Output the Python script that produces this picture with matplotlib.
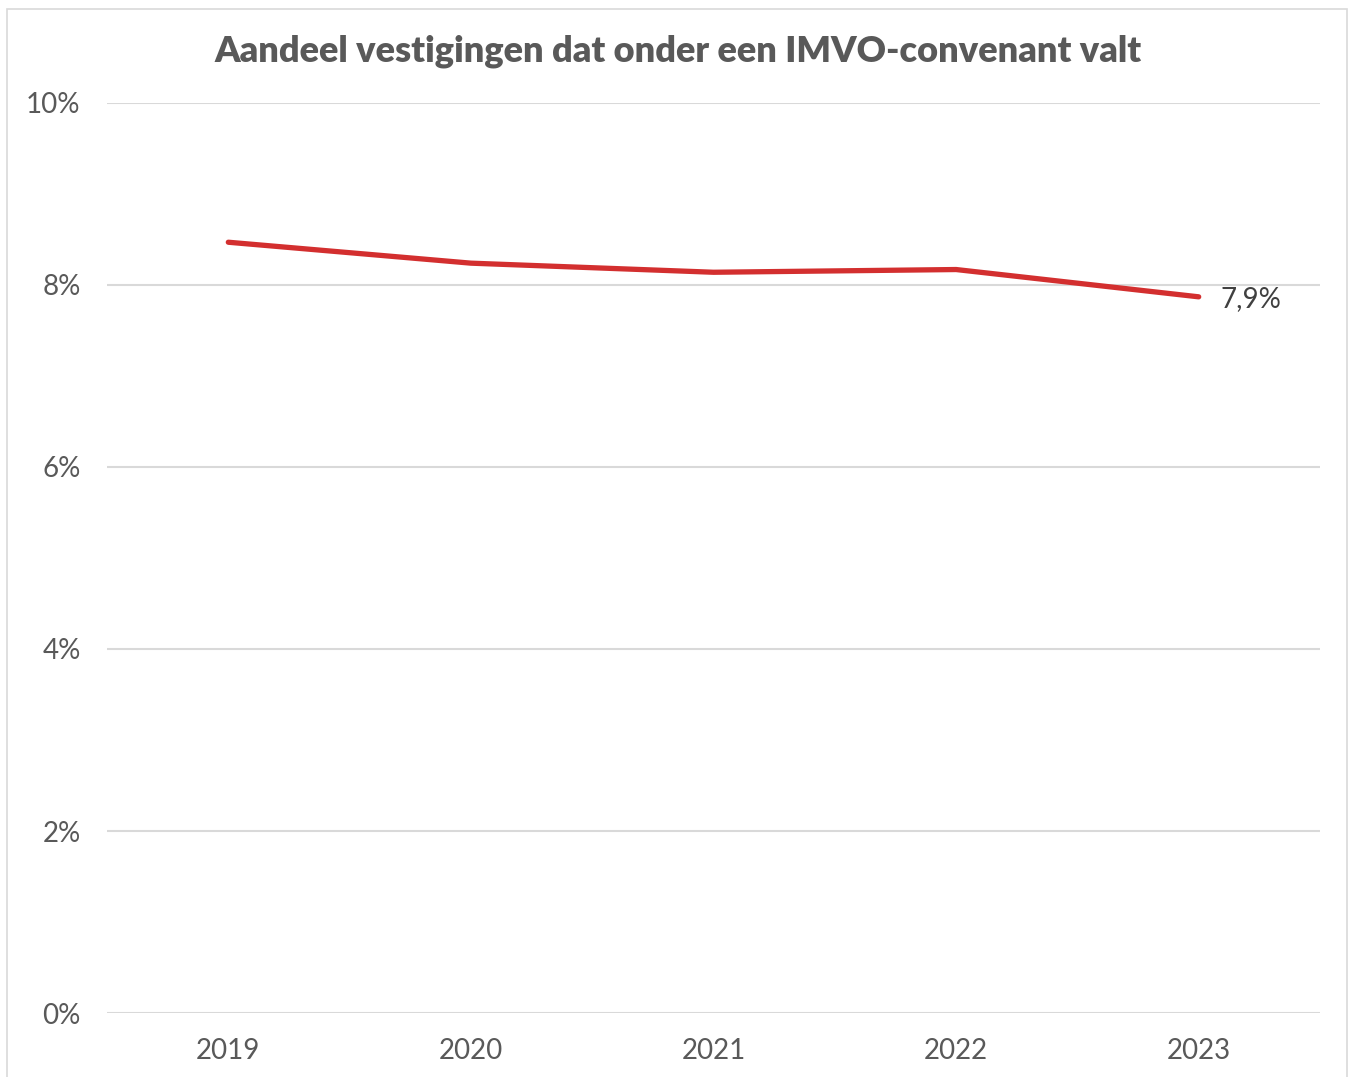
import matplotlib.pyplot as plt
from matplotlib.patches import Rectangle
from matplotlib.ticker import FuncFormatter

years = ["2019", "2020", "2021", "2022", "2023"]
share = [8.47, 8.24, 8.14, 8.17, 7.87]
end_label = "7,9%"
title = "Aandeel vestigingen dat onder een IMVO-convenant valt"

plt.rcParams['font.family'] = ['Lato', 'DejaVu Sans']

W, H = 1349, 1077
fig = plt.figure(figsize=(W / 100, H / 100), dpi=100)
fig.patch.set_facecolor("white")
fig.add_artist(Rectangle((7 / W, -0.01), (1347 - 7) / W, 1 - 9 / H + 0.01,
                         transform=fig.transFigure, fill=False,
                         edgecolor="#d9d9d9", linewidth=1.2))

ax = fig.add_axes([107 / W, 1 - 1013 / H, (1320 - 107) / W, (1013 - 103) / H])
x = range(len(years))
ax.plot(x, share, color="#d32f2f", linewidth=3.8, solid_capstyle="round")
ax.text(len(years) - 1 + 0.09, share[-1] - 0.02, end_label, fontsize=20,
        color="#404040", va="center", ha="left")

ax.set_xlim(-0.5, len(years) - 0.5)
ax.set_ylim(0, 10)
ax.set_yticks([0, 2, 4, 6, 8, 10])
ax.yaxis.set_major_formatter(FuncFormatter(lambda v, p: f"{v:.0f}%"))
ax.set_xticks(list(x))
ax.set_xticklabels(years)
ax.grid(axis="y", color="#d9d9d9", linewidth=1.5)
ax.set_axisbelow(True)
for s in ax.spines.values():
    s.set_visible(False)
ax.tick_params(axis="both", length=0, labelsize=20, labelcolor="#595959")
ax.tick_params(axis="y", pad=19)
ax.tick_params(axis="x", pad=18)

fig.text(678 / W, 1 - 51 / H, title, ha="center", va="center",
         fontsize=26, fontweight="heavy", color="#595959")

fig.savefig("out.png", dpi=100)
